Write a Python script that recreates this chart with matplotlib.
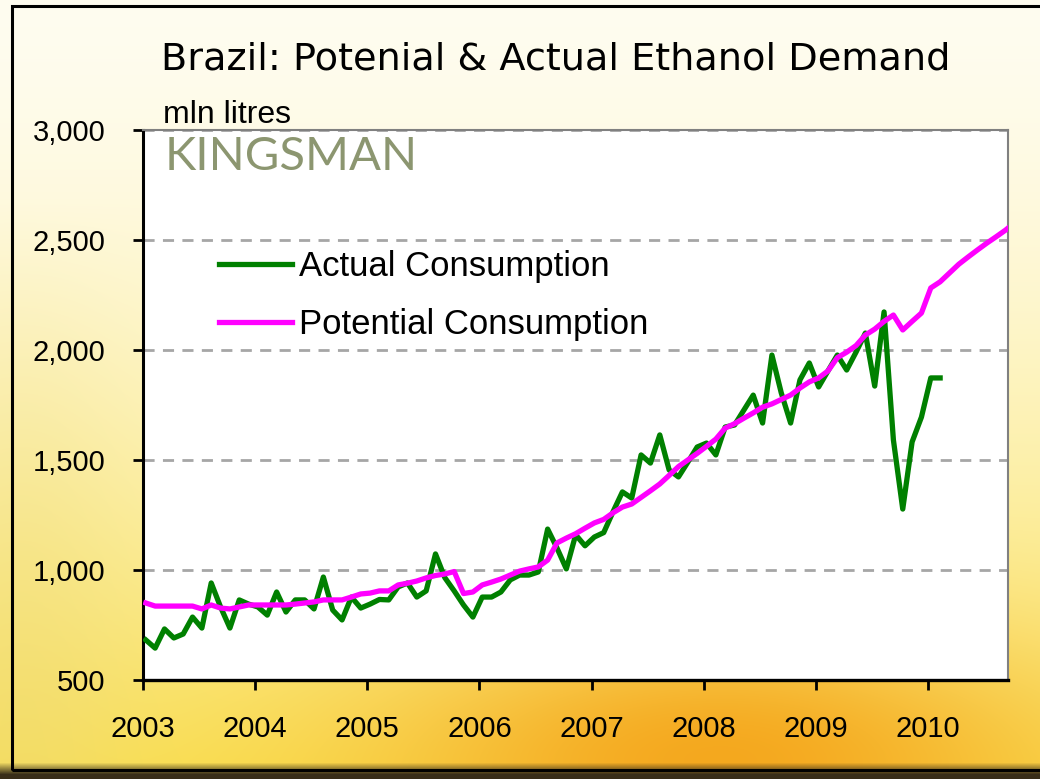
import numpy as np
import matplotlib.pyplot as plt
from matplotlib.patches import Rectangle

# monthly data, Jan 2003 onwards (mln litres)
actual = [682, 645, 732, 691, 709, 786, 736, 941, 832, 736, 864, 845,
          832, 795, 900, 809, 864, 864, 823, 968, 818, 773, 877, 827,
          845, 866, 864, 923, 941, 877, 905, 1073, 965, 905, 841, 786,
          877, 877, 900, 955, 977, 977, 991, 1186, 1100, 1005, 1160, 1110,
          1150, 1170, 1265, 1355, 1327, 1523, 1486, 1614, 1455, 1423, 1490, 1559,
          1577, 1523, 1650, 1659, 1727, 1795, 1668, 1977, 1805, 1668, 1864, 1941,
          1832, 1905, 1977, 1909, 1990, 2077, 1836, 2173, 1591, 1277, 1582, 1695,
          1873, 1873]
potential = [850, 836, 836, 836, 836, 836, 823, 841, 827, 823, 832, 841,
             841, 841, 841, 841, 845, 850, 855, 864, 864, 864, 877, 891,
             895, 905, 905, 932, 940, 950, 964, 975, 982, 993, 893, 900,
             932, 945, 959, 977, 995, 1005, 1014, 1045, 1123, 1145, 1165, 1190,
             1214, 1230, 1260, 1286, 1300, 1330, 1360, 1391, 1430, 1470, 1500, 1530,
             1562, 1595, 1645, 1665, 1690, 1714, 1740, 1755, 1775, 1795, 1827, 1855,
             1873, 1905, 1965, 1990, 2020, 2068, 2095, 2130, 2159, 2091, 2130, 2168,
             2282, 2310, 2350, 2390, 2423, 2455, 2486, 2515, 2545, 2580]
years = [2003, 2004, 2005, 2006, 2007, 2008, 2009, 2010]
yticks = [500, 1000, 1500, 2000, 2500, 3000]


def month_pos(n):
    return [2003 + (i + 0.3) / 12 for i in range(n)]


fig = plt.figure(figsize=(10.4, 7.79), dpi=100)

# background: cream to sunflower yellow
H, W = 779, 1040
yy, xx = np.mgrid[0:H, 0:W]
t = (yy / H) ** 1.6
top = np.array([1.0, 0.99, 0.94])
bot = np.array([0.98, 0.88, 0.32])
img = top * (1 - t[..., None]) + bot * t[..., None]
glow = np.exp(-(((xx - 720) / 330.0) ** 2 + ((yy - 760) / 130.0) ** 2))
orange = np.array([0.96, 0.66, 0.12])
img = img * (1 - glow[..., None]) + orange * glow[..., None]
side = np.exp(-((xx - 20) / 110.0) ** 2) * np.clip((yy - 200) / 500, 0, 1)
img = img * (1 - 0.5 * side[..., None]) + np.array([0.93, 0.85, 0.45]) * 0.5 * side[..., None]
shade = np.clip((yy - 762) / 12.0, 0, 1)
img = img * (1 - shade[..., None]) + np.array([0.22, 0.18, 0.10]) * shade[..., None]
bg = fig.add_axes([0, 0, 1, 1])
bg.imshow(img, aspect='auto', extent=[0, 1, 0, 1], zorder=0)
bg.set_xlim(0, 1)
bg.set_ylim(0, 1)
bg.axis('off')
bg.add_patch(Rectangle((12 / W, 1 - 770 / H), 1.0, (770 - 6) / H,
                       fill=False, ec='black', lw=2.2))

ax = fig.add_axes([143 / W, 1 - 680 / H, 865 / W, 550 / H])
ax.set_facecolor('white')

ax.plot(month_pos(len(actual)), actual, color='#008000', lw=3.8,
        solid_joinstyle='round', label='Actual Consumption', zorder=3)
ax.plot(month_pos(len(potential)), potential, color='#FF00FF', lw=3.8,
        solid_joinstyle='round', label='Potential Consumption', zorder=4)

ax.set_xlim(2003, 2003 + 865 / 112.14)
ax.set_ylim(500, 3000)
ax.set_xticks(years)
ax.set_xticklabels([str(y) for y in years])
ax.set_yticks(yticks)
ax.set_yticklabels([f'{v:,}' for v in yticks])
ax.yaxis.grid(True, linestyle=(0, (4, 3)), color='#A6A6A6', lw=2)
ax.set_axisbelow(True)

for lab in ax.get_xticklabels() + ax.get_yticklabels():
    lab.set_fontfamily('Liberation Sans')
    lab.set_fontsize(21)
ax.tick_params(axis='y', direction='out', length=7, width=2, pad=20)
ax.tick_params(axis='x', direction='out', length=7, width=2, pad=18)

ax.spines['left'].set_linewidth(2.2)
ax.spines['bottom'].set_linewidth(2.4)
ax.spines['top'].set_color('#808080')
ax.spines['right'].set_color('#808080')
ax.spines['top'].set_linewidth(1.5)
ax.spines['right'].set_linewidth(1.5)

leg = ax.legend(loc='upper left', bbox_to_anchor=(0.052, 0.838), frameon=False,
                prop={'family': 'Liberation Sans', 'size': 25},
                handlelength=2.1, handletextpad=0.2, labelspacing=0.72)

fig.text(0.534, 0.924, 'Brazil: Potenial & Actual Ethanol Demand',
         ha='center', va='center', fontsize=27.5, family='DejaVu Sans')
fig.text(163 / W, 1 - 123 / H, 'mln litres', ha='left', va='baseline',
         fontsize=23, family='Liberation Sans')
fig.text(165 / W, 1 - 157 / H, 'KINGSMAN', ha='left', va='center',
         fontsize=34, family='Lato', color='#8C9670')

fig.savefig('out.png', dpi=100)
